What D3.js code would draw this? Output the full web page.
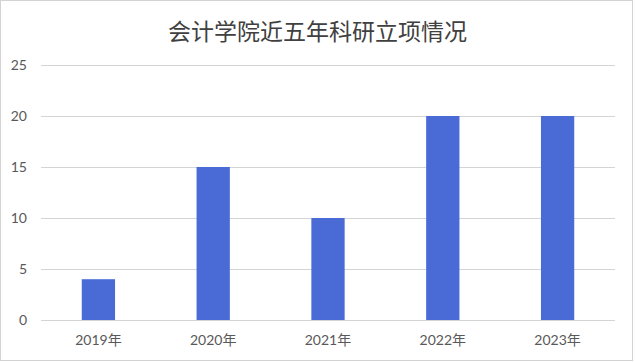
<!DOCTYPE html>
<html lang="zh">
<head>
<meta charset="UTF-8">
<title>会计学院近五年科研立项情况</title>
<script src="https://d3js.org/d3.v7.min.js"></script>
<style>
  body { margin: 0; padding: 0; background: #fff; }
  svg { display: block; }
</style>
</head>
<body>
<svg id="chart"></svg>
<script>
// data
const years = ["2019年", "2020年", "2021年", "2022年", "2023年"];
const projects = [4, 15, 10, 20, 20];
const yTicks = [0, 5, 10, 15, 20, 25];

const width = 635, height = 362;
const margin = { top: 65, right: 20, bottom: 42, left: 41 };

const svg = d3.select("#chart")
  .attr("width", width)
  .attr("height", height);

// outer dotted frame
svg.append("rect")
  .attr("x", 0.5).attr("y", 0.5)
  .attr("width", width - 3).attr("height", height - 2)
  .attr("fill", "#fff")
  .attr("stroke", "#a6a6a6")
  .attr("stroke-dasharray", "1,1");

const x = d3.scaleBand()
  .domain(years)
  .range([margin.left, width - margin.right])
  .paddingInner(0.71)
  .paddingOuter(0.355);

const y = d3.scaleLinear()
  .domain([0, 25])
  .range([height - margin.bottom, margin.top]);

// gridlines
svg.append("g")
  .selectAll("line")
  .data(yTicks)
  .join("line")
  .attr("x1", margin.left)
  .attr("x2", width - margin.right)
  .attr("y1", d => Math.round(y(d)) + 0.5)
  .attr("y2", d => Math.round(y(d)) + 0.5)
  .attr("stroke", "#d4d4d4")
  .attr("stroke-width", 1);

// y tick labels
svg.append("g")
  .selectAll("text")
  .data(yTicks)
  .join("text")
  .attr("x", 27)
  .attr("y", d => y(d))
  .attr("dy", "0.35em")
  .attr("text-anchor", "end")
  .attr("font-family", "Lato, 'Noto Sans', sans-serif")
  .attr("font-size", 14)
  .attr("fill", "#595959")
  .text(d => d);

// bars
svg.append("g")
  .selectAll("rect")
  .data(projects)
  .join("rect")
  .attr("x", (d, i) => x(years[i]))
  .attr("y", d => y(d))
  .attr("width", x.bandwidth())
  .attr("height", d => y(0) - y(d))
  .attr("fill", "#4a6bd6");

// x labels
svg.append("g")
  .selectAll("text")
  .data(years)
  .join("text")
  .attr("x", d => x(d) + x.bandwidth() / 2)
  .attr("y", height - margin.bottom + 25)
  .attr("text-anchor", "middle")
  .attr("font-family", "Lato, 'Noto Sans CJK SC', sans-serif")
  .attr("font-size", 14)
  .attr("fill", "#595959")
  .text(d => d);

// title
svg.append("text")
  .attr("x", width / 2)
  .attr("y", 40)
  .attr("text-anchor", "middle")
  .attr("font-family", "'Noto Sans CJK SC', sans-serif")
  .attr("font-size", 23)
  .attr("fill", "#404040")
  .text("会计学院近五年科研立项情况");
</script>
</body>
</html>
